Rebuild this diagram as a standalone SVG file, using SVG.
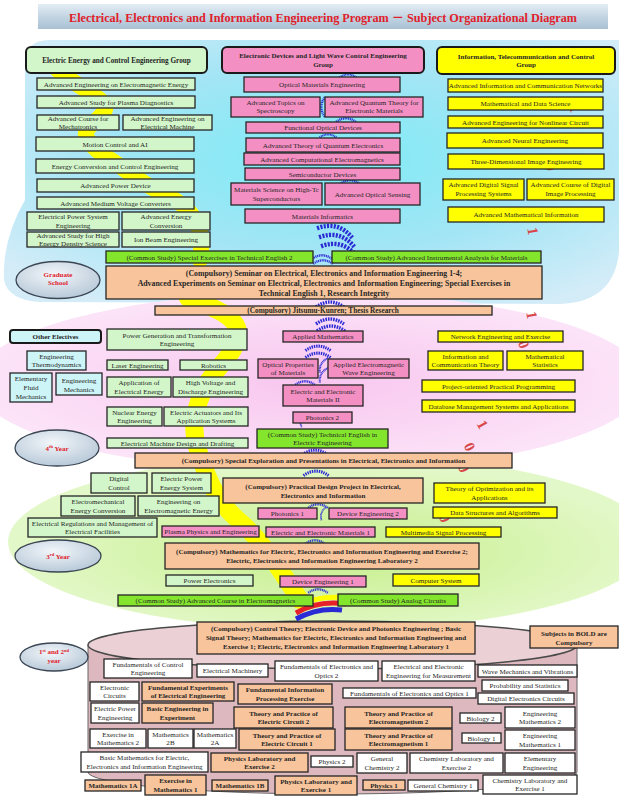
<svg xmlns="http://www.w3.org/2000/svg" width="619" height="801" viewBox="0 0 619 801">
<defs>
<linearGradient id="gTitle" x1="0" y1="0" x2="0" y2="1"><stop offset="0" stop-color="#e4edf4"/><stop offset="0.5" stop-color="#c3d5e3"/><stop offset="1" stop-color="#a9c1d4"/></linearGradient>
<radialGradient id="gBlue" cx="0.52" cy="0.45" r="0.65"><stop offset="0" stop-color="#7cecf6"/><stop offset="0.55" stop-color="#a3e5f5"/><stop offset="1" stop-color="#d3ecf8"/></radialGradient>
<radialGradient id="gPink" cx="0.5" cy="0.5" r="0.5"><stop offset="0" stop-color="#f8c6ef"/><stop offset="1" stop-color="#fce4f8"/></radialGradient>
<radialGradient id="gGreen" cx="0.5" cy="0.55" r="0.5"><stop offset="0" stop-color="#c6ef8a"/><stop offset="1" stop-color="#e3f8c9"/></radialGradient>
<radialGradient id="gEll" cx="0.45" cy="0.35" r="0.7"><stop offset="0" stop-color="#f2f6fa"/><stop offset="1" stop-color="#b4c6d6"/></radialGradient>
<path id="arc" d="M-14,4 Q0,-6 14,4"/>
</defs>
<style>
.bx{stroke:#262626;stroke-width:1.3}
.hd{stroke:#1a1a1a;stroke-width:2}
.lg{fill:#d2f6ca}
.pk{fill:#f48fc3}
.yl{fill:#ffff00}
.cs{fill:#84e62c}
.pe{fill:#f8c49b}
.wh{fill:#ffffff}
.lc{fill:#cdf4f7}
.el{fill:url(#gEll);stroke:#3c4654;stroke-width:1.3}
text{font-family:"Liberation Serif","Times New Roman","Noto Sans CJK JP",serif;font-size:7.1px;fill:#262626;text-anchor:middle}
.b{font-weight:bold;font-size:7px}
.r{font-weight:bold;fill:#e0202a;font-size:7px}
.arcs use{fill:none;stroke:#2b2bd6;stroke-width:3.4;stroke-dasharray:1.6 1}
.dg{fill:#d94848;font-size:15px;font-weight:bold}
</style>

<!-- backgrounds -->
<rect width="619" height="801" fill="#ffffff"/>
<path d="M25,64 Q25,40 49,40 L619,40 L619,252 Q614,302 560,304 L40,302 Q8,300 4,280 Q2,240 25,200 Z" fill="url(#gBlue)"/>
<ellipse cx="310" cy="382" rx="335" ry="90" fill="url(#gPink)"/>
<ellipse cx="330" cy="542" rx="322" ry="88" fill="url(#gGreen)"/>
<path d="M88,645 L88,772 A244.5,22 0 0 0 577,772 L577,645 Z" fill="#ddb8bf" stroke="#666" stroke-width="1"/>
<ellipse cx="332.5" cy="645" rx="244.5" ry="24" fill="#ebd1d5" stroke="#4a4a4a" stroke-width="1.5"/>

<!-- decorative helix -->
<g id="helix" fill="none">
<path d="M58,70 C80,90 112,100 104,112 C96,124 80,128 88,140 C96,152 104,155 120,166 C136,178 150,188 175,200 C195,212 205,230 200,260" stroke="#ffff00" stroke-width="16" stroke-linecap="round"/>
<path d="M188,298 C210,306 238,316 238,333 C238,352 218,365 206,385 C196,405 190,425 198,450 C206,475 215,500 238,520 C262,540 280,570 300,600" stroke="#ffff00" stroke-width="18" stroke-linecap="round"/>
<path d="M300,606 Q318,595 346,598" stroke="#ffff00" stroke-width="5"/>
<path d="M296,613 Q318,600 346,604" stroke="#e8202a" stroke-width="5"/>
<path d="M296,619 Q318,607 342,610" stroke="#2b2bd6" stroke-width="5"/>
<g class="arcs">
<use href="#arc" transform="translate(348,75) scale(0.6)"/>
<use href="#arc" transform="translate(322,107) rotate(-90) scale(0.7)"/>
<use href="#arc" transform="translate(346,119) scale(0.7)"/>
<use href="#arc" transform="translate(328,135) scale(0.6)"/>
<use href="#arc" transform="translate(322,152) scale(0.5)"/>
<use href="#arc" transform="translate(350,181) scale(0.7)"/>
<use href="#arc" transform="translate(336,228) rotate(15) scale(1.3)"/>
<use href="#arc" transform="translate(338,237) rotate(15) scale(1.3)"/>
<use href="#arc" transform="translate(340,246) rotate(15) scale(1.3)"/>
<use href="#arc" transform="translate(322,256) scale(0.7)"/>
<use href="#arc" transform="translate(323,261) scale(0.7)"/>
<use href="#arc" transform="translate(330,303) scale(1)"/>
<use href="#arc" transform="translate(330,320) scale(1)"/>
<use href="#arc" transform="translate(331,327) scale(1)"/>
<use href="#arc" transform="translate(318,347) scale(0.9)"/>
<use href="#arc" transform="translate(318,354) scale(0.9)"/>
<use href="#arc" transform="translate(322,364) rotate(-60) scale(0.6)"/>
<use href="#arc" transform="translate(322,374) rotate(-60) scale(0.6)"/>
<use href="#arc" transform="translate(305,382) scale(0.7)"/>
<use href="#arc" transform="translate(301,420) rotate(-80) scale(0.5)"/>
<use href="#arc" transform="translate(315,451) scale(0.9)"/>
<use href="#arc" transform="translate(316,472) scale(0.9)"/>
<use href="#arc" transform="translate(318,505) scale(0.7)"/>
<use href="#arc" transform="translate(322,513) rotate(-70) scale(0.5)"/>
<use href="#arc" transform="translate(315,541) scale(0.7)"/>
<use href="#arc" transform="translate(318,590) scale(0.7)"/>
</g>
</g>

<!-- binary digits -->
<g id="digits">
<text class="dg" transform="translate(570,110) rotate(70)">1</text>
<text class="dg" transform="translate(546,168) rotate(75)">0</text>
<text class="dg" transform="translate(533,217) rotate(75)">0</text>
<text class="dg" transform="translate(528,232) rotate(80)">1</text>
<text class="dg" transform="translate(527,316) rotate(80)">1</text>
<text class="dg" transform="translate(519,346) rotate(70)">0</text>
<text class="dg" transform="translate(478,427) rotate(60)">1</text>
<text class="dg" transform="translate(465,449) rotate(65)">0</text>
<text class="dg" transform="translate(459,470) rotate(70)">0</text>
<text class="dg" transform="translate(440,520) rotate(70)">0</text>
</g>

<!-- title -->
<g id="title">
<rect x="38" y="4" width="570" height="25" fill="url(#gTitle)"/>
<text x="323" y="22" textLength="508" lengthAdjust="spacingAndGlyphs" style="font-size:12px;font-weight:bold;fill:#e0202a">Electrical, Electronics and Information Engineering Program － Subject Organizational Diagram</text>
</g>

<!-- group headers -->
<g id="hdr-energy"><rect class="hd lg" x="26" y="47" width="181" height="26" rx="5"/><text class="b" x="116.5" y="62.5" style="font-size:7.2px">Electric Energy and Control Engineering Group</text></g>
<g id="hdr-devices"><rect class="hd pk" x="222" y="47" width="202" height="26" rx="5"/><text class="b" x="323" y="58">Electronic Devices and Light Wave Control Engineering<tspan x="323" dy="8.8">Group</tspan></text></g>
<g id="hdr-info"><rect class="hd yl" x="437" y="47" width="178" height="27" rx="5"/><text class="b" x="526" y="58.5">Information, Telecommunication and Control<tspan x="526" dy="8.8">Group</tspan></text></g>

<!-- energy group -->
<g id="n-e1"><rect class="bx lg" x="37" y="78" width="158" height="12"/><text x="116" y="86.5">Advanced Engineering on Electromagnetic Energy</text></g>
<g id="n-e2"><rect class="bx lg" x="37" y="96" width="158" height="12"/><text x="116" y="104.5">Advanced Study for Plasma Diagnostics</text></g>
<g id="n-e3"><rect class="bx lg" x="37" y="115" width="82" height="15"/><text x="78" y="120.5">Advanced Course for<tspan x="78" dy="8.5">Mechatronics</tspan></text></g>
<g id="n-e4"><rect class="bx lg" x="123" y="115" width="89" height="15"/><text x="167.5" y="120.5">Advanced Engineering on<tspan x="167.5" dy="8.5">Electrical Machine</tspan></text></g>
<g id="n-e5"><rect class="bx lg" x="36" y="137" width="158" height="14"/><text x="115" y="146.5">Motion Control and AI</text></g>
<g id="n-e6"><rect class="bx lg" x="36" y="159" width="158" height="14"/><text x="115" y="168.5">Energy Conversion and Control Engineering</text></g>
<g id="n-e7"><rect class="bx lg" x="37" y="179" width="157" height="13"/><text x="115.5" y="188">Advanced Power Device</text></g>
<g id="n-e8"><rect class="bx lg" x="37" y="197" width="157" height="12"/><text x="115.5" y="205.5">Advanced Medium Voltage Converters</text></g>
<g id="n-e9"><rect class="bx lg" x="27" y="212" width="92" height="18"/><text x="73" y="219">Electrical Power System<tspan x="73" dy="8.8">Engineering</tspan></text></g>
<g id="n-e10"><rect class="bx lg" x="122" y="212" width="88" height="18"/><text x="166" y="219">Advanced Energy<tspan x="166" dy="8.8">Conversion</tspan></text></g>
<g id="n-e11"><rect class="bx lg" x="27" y="232" width="92" height="15"/><text x="73" y="237.8">Advanced Study for High<tspan x="73" dy="8.3">Energy Density Science</tspan></text></g>
<g id="n-e12"><rect class="bx lg" x="122" y="232" width="88" height="15"/><text x="166" y="242">Ion Beam Engineering</text></g>

<!-- devices group -->
<g id="n-d1"><rect class="bx pk" x="244" y="77" width="156" height="15"/><text x="322" y="87">Optical Materials Engineering</text></g>
<g id="n-d2"><rect class="bx pk" x="231" y="97" width="89" height="20"/><text x="275.5" y="104.5">Advanced Topics on<tspan x="275.5" dy="8.8">Spectroscopy</tspan></text></g>
<g id="n-d3"><rect class="bx pk" x="325" y="97" width="98" height="20"/><text x="374" y="104.5">Advanced Quantum Theory for<tspan x="374" dy="8.8">Electronic Materials</tspan></text></g>
<g id="n-d4"><rect class="bx pk" x="246" y="122" width="154" height="11"/><text x="323" y="130">Functional Optical Devices</text></g>
<g id="n-d5"><rect class="bx pk" x="246" y="138" width="154" height="14"/><text x="323" y="147.5">Advanced Theory of Quantum Electronics</text></g>
<g id="n-d6"><rect class="bx pk" x="244" y="153" width="156" height="12"/><text x="322" y="161.5">Advanced Computational Electromagnetics</text></g>
<g id="n-d7"><rect class="bx pk" x="245" y="168" width="155" height="12"/><text x="322.5" y="176.5">Semiconductor Devices</text></g>
<g id="n-d8"><rect class="bx pk" x="231" y="183" width="91" height="22"/><text x="276.5" y="192">Materials Science on High-Tc<tspan x="276.5" dy="8.8">Superconductors</tspan></text></g>
<g id="n-d9"><rect class="bx pk" x="325" y="183" width="95" height="22"/><text x="372.5" y="196.5">Advanced Optical Sensing</text></g>
<g id="n-d10"><rect class="bx pk" x="245" y="209" width="155" height="14"/><text x="322.5" y="218.5">Materials Informatics</text></g>

<!-- information group -->
<g id="n-i1"><rect class="bx yl" x="448" y="79" width="155" height="13"/><text x="525.5" y="88">Advanced Information and Communication Networks</text></g>
<g id="n-i2"><rect class="bx yl" x="448" y="97" width="155" height="13"/><text x="525.5" y="106">Mathematical and Data Science</text></g>
<g id="n-i3"><rect class="bx yl" x="448" y="116" width="155" height="12"/><text x="525.5" y="124.5">Advanced Engineering for Nonlinear Circuit</text></g>
<g id="n-i4"><rect class="bx yl" x="447" y="133" width="156" height="15"/><text x="525" y="143">Advanced Neural Engineering</text></g>
<g id="n-i5"><rect class="bx yl" x="448" y="154" width="156" height="15"/><text x="526" y="164">Three-Dimensional Image Engineering</text></g>
<g id="n-i6"><rect class="bx yl" x="443" y="179" width="81" height="21"/><text x="483.5" y="187">Advanced Digital Signal<tspan x="483.5" dy="8.8">Processing Systems</tspan></text></g>
<g id="n-i7"><rect class="bx yl" x="527" y="179" width="87" height="21"/><text x="570.5" y="187">Advanced Course of Digital<tspan x="570.5" dy="8.8">Image Processing</tspan></text></g>
<g id="n-i8"><rect class="bx yl" x="448" y="207" width="156" height="15"/><text x="526" y="217">Advanced Mathematical Information</text></g>

<!-- graduate school -->
<g id="n-g1"><rect class="bx cs" x="106" y="251" width="207" height="12"/><text x="209.5" y="259.5">(Common Study) Special Exercises in Technical English 2</text></g>
<g id="n-g2"><rect class="bx cs" x="332" y="251" width="209" height="12"/><text x="436.5" y="259.5">(Common Study) Advanced Instrumental Analysis for Materials</text></g>
<g id="lbl-grad"><ellipse class="el" cx="58" cy="280" rx="42" ry="18.5"/><text class="r" x="58" y="276.5">Graduate<tspan x="58" dy="8">School</tspan></text></g>
<g id="n-g3"><rect class="bx pe" x="106" y="266" width="436" height="33"/><text class="b" x="324" y="276" style="font-size:7.8px">(Compulsory)  Seminar on Electrical, Electronics and Information Engineering 1-4;<tspan x="324" dy="9.8">Advanced Experiments on Seminar on Electrical, Electronics and Information Engineering; Special Exercises in</tspan><tspan x="324" dy="9.8">Technical English 1, Research Integrity</tspan></text></g>
<g id="n-g4"><rect class="bx pe" x="155" y="306" width="337" height="9"/><text class="b" x="323" y="313.2" style="font-size:7.3px">(Compulsory) Jitsumu-Kunren; Thesis Research</text></g>

<!-- other electives -->
<g id="hdr-other"><rect class="hd lc" x="10" y="330" width="91" height="13" rx="3"/><text class="b" x="55.5" y="339">Other Electives</text></g>
<g id="n-o1"><rect class="bx lc" x="27" y="351" width="59" height="19"/><text x="56.5" y="358.5">Engineering<tspan x="56.5" dy="8.8">Thermodynamics</tspan></text></g>
<g id="n-o2"><rect class="bx lc" x="10" y="373" width="42" height="29"/><text x="31" y="380.5">Elementary<tspan x="31" dy="9.3">Fluid</tspan><tspan x="31" dy="9.3">Mechanics</tspan></text></g>
<g id="n-o3"><rect class="bx lc" x="56" y="373" width="46" height="22"/><text x="79" y="383">Engineering<tspan x="79" dy="8.8">Mechanics</tspan></text></g>

<!-- 4th year -->
<g id="n-f1"><rect class="bx lg" x="107" y="329" width="140" height="21"/><text x="177" y="337.5">Power Generation and Transformation<tspan x="177" dy="8.8">Engineering</tspan></text></g>
<g id="n-f2"><rect class="bx lg" x="107" y="360" width="61" height="10"/><text x="137.5" y="367.5">Laser Engineering</text></g>
<g id="n-f3"><rect class="bx lg" x="180" y="360" width="67" height="10"/><text x="213.5" y="367.5">Robotics</text></g>
<g id="n-f4"><rect class="bx lg" x="107" y="377" width="64" height="20"/><text x="139" y="385">Application of<tspan x="139" dy="8.8">Electrical Energy</tspan></text></g>
<g id="n-f5"><rect class="bx lg" x="173" y="377" width="75" height="20"/><text x="210.5" y="385">High Voltage and<tspan x="210.5" dy="8.8">Discharge Engineering</tspan></text></g>
<g id="n-f6"><rect class="bx pk" x="283" y="331" width="80" height="11"/><text x="323" y="339">Applied Mathematics</text></g>
<g id="n-f7"><rect class="bx pk" x="258" y="359" width="60" height="19"/><text x="288" y="366.5">Optical Properties<tspan x="288" dy="8.8">of Materials</tspan></text></g>
<g id="n-f8"><rect class="bx pk" x="328" y="359" width="81" height="19"/><text x="368.5" y="366.5">Applied Electromagnetic<tspan x="368.5" dy="8.8">Wave Engineering</tspan></text></g>
<g id="n-f9"><rect class="bx pk" x="283" y="385" width="80" height="21"/><text x="323" y="393.5">Electric and Electronic<tspan x="323" dy="8.8">Materials II</tspan></text></g>
<g id="n-f10"><rect class="bx yl" x="438" y="331" width="125" height="11"/><text x="500.5" y="339">Network Engineering and Exercise</text></g>
<g id="n-f11"><rect class="bx yl" x="428" y="351" width="75" height="19"/><text x="465.5" y="358.5">Information and<tspan x="465.5" dy="8.8">Communication Theory</tspan></text></g>
<g id="n-f12"><rect class="bx yl" x="507" y="351" width="76" height="19"/><text x="545" y="358.5">Mathematical<tspan x="545" dy="8.8">Statistics</tspan></text></g>
<g id="n-f13"><rect class="bx yl" x="422" y="380" width="153" height="12"/><text x="498.5" y="388.5">Project-oriented Practical Programming</text></g>
<g id="n-f14"><rect class="bx yl" x="422" y="400" width="153" height="12"/><text x="498.5" y="408.5">Database Management Systems and Applications</text></g>
<g id="n-f15"><rect class="bx lg" x="107" y="407" width="55" height="19"/><text x="134.5" y="414.5">Nuclear Energy<tspan x="134.5" dy="8.8">Engineering</tspan></text></g>
<g id="n-f16"><rect class="bx lg" x="164" y="407" width="84" height="19"/><text x="206" y="414.5">Electric Actuators and Its<tspan x="206" dy="8.8">Application Systems</tspan></text></g>
<g id="n-f17"><rect class="bx pk" x="293" y="412" width="59" height="11"/><text x="322.5" y="420">Photonics 2</text></g>
<g id="lbl-4th"><ellipse class="el" cx="57" cy="448" rx="42" ry="18"/><text class="r" x="57" y="450.5">4<tspan dy="-2.5" style="font-size:4.5px">th</tspan><tspan dy="2.5"> Year</tspan></text></g>
<g id="n-f18"><rect class="bx lg" x="107" y="438" width="141" height="10"/><text x="177.5" y="445.5">Electrical Machine Design and Drafting</text></g>
<g id="n-f19"><rect class="bx cs" x="257" y="429" width="131" height="19"/><text x="322.5" y="436.5">(Common Study) Technical English in<tspan x="322.5" dy="8.8">Electric Engineering</tspan></text></g>
<g id="n-f20"><rect class="bx pe" x="135" y="453" width="377" height="15"/><text class="b" x="323.5" y="463">(Compulsory) Special Exploration and Presentations in Electrical, Electronics and Information</text></g>

<!-- 3rd year -->
<g id="n-t1"><rect class="bx lg" x="91" y="473" width="56" height="20"/><text x="119" y="481">Digital<tspan x="119" dy="8.8">Control</tspan></text></g>
<g id="n-t2"><rect class="bx lg" x="152" y="473" width="59" height="20"/><text x="181.5" y="481">Electric Power<tspan x="181.5" dy="8.8">Energy System</tspan></text></g>
<g id="n-t3"><rect class="bx pe" x="223" y="478" width="200" height="25"/><text class="b" x="323" y="488.5">(Compulsory) Practical Design Project in Electrical,<tspan x="323" dy="9">Electronics and Information</tspan></text></g>
<g id="n-t4"><rect class="bx yl" x="434" y="483" width="111" height="20"/><text x="489.5" y="491">Theory of Optimization and its<tspan x="489.5" dy="8.8">Applications</tspan></text></g>
<g id="n-t5"><rect class="bx lg" x="61" y="496" width="74" height="20"/><text x="98" y="504">Electromechanical<tspan x="98" dy="8.8">Energy Conversion</tspan></text></g>
<g id="n-t6"><rect class="bx lg" x="138" y="496" width="81" height="20"/><text x="178.5" y="504">Engineering on<tspan x="178.5" dy="8.8">Electromagnetic Energy</tspan></text></g>
<g id="n-t7"><rect class="bx pk" x="258" y="508" width="59" height="11"/><text x="287.5" y="516">Photonics 1</text></g>
<g id="n-t8"><rect class="bx pk" x="329" y="508" width="78" height="11"/><text x="368" y="516">Device Engineering 2</text></g>
<g id="n-t9"><rect class="bx yl" x="433" y="507" width="124" height="11"/><text x="495" y="515">Data Structures and Algorithms</text></g>
<g id="n-t10"><rect class="bx lg" x="28" y="518" width="129" height="19"/><text x="92.5" y="525.5">Electrical Regulations and Management of<tspan x="92.5" dy="8.8">Electrical Facilities</tspan></text></g>
<g id="n-t11"><rect class="bx pk" x="162" y="526" width="97" height="11"/><text x="210.5" y="534">Plasma Physics and Engineering</text></g>
<g id="n-t12"><rect class="bx pk" x="266" y="527" width="109" height="10"/><text x="320.5" y="534.5">Electric and Electronic Materials 1</text></g>
<g id="n-t13"><rect class="bx yl" x="386" y="527" width="115" height="10"/><text x="443.5" y="534.5">Multimedia Signal Processing</text></g>
<g id="lbl-3rd"><ellipse class="el" cx="58" cy="556" rx="43" ry="16"/><text class="r" x="58" y="558.5">3<tspan dy="-2.5" style="font-size:4.5px">rd</tspan><tspan dy="2.5"> Year</tspan></text></g>
<g id="n-t14"><rect class="bx pe" x="165" y="543" width="314" height="26"/><text class="b" x="322" y="553.5">(Compulsory) Mathematics for Electric, Electronics and Information Engineering and Exercise 2;<tspan x="322" dy="9.3">Electric, Electronics and Information Engineering Laboratory 2</tspan></text></g>
<g id="n-t15"><rect class="bx lg" x="166" y="575" width="87" height="11"/><text x="209.5" y="583">Power Electronics</text></g>
<g id="n-t16"><rect class="bx pk" x="280" y="576" width="86" height="11"/><text x="323" y="584">Device Engineering 1</text></g>
<g id="n-t17"><rect class="bx yl" x="393" y="574" width="86" height="12"/><text x="436" y="582.5">Computer System</text></g>
<g id="n-t18"><rect class="bx cs" x="118" y="595" width="195" height="11"/><text x="215.5" y="603">(Common Study) Advanced Course in Electromagnetics</text></g>
<g id="n-t19"><rect class="bx cs" x="338" y="594" width="120" height="12"/><text x="398" y="602.5">(Common Study) Analog Circuits</text></g>

<!-- 1st and 2nd year -->
<g id="n-s0"><rect class="bx pe" x="197" y="622" width="278" height="32"/><text class="b" x="336" y="631">(Compulsory) Control Theory; Electronic Device and Photonics Engineering ; Basic<tspan x="336" dy="9">Signal Theory; Mathematics for Electric, Electronics and Information Engineering and</tspan><tspan x="336" dy="9">Exercise 1; Electric, Electronics and Information Engineering Laboratory 1</tspan></text></g>
<g id="n-bold"><rect class="bx pe" x="530" y="626" width="88" height="22"/><text class="b" x="574" y="635.5">Subjects in BOLD are<tspan x="574" dy="9">Compulsory</tspan></text></g>
<g id="lbl-12"><ellipse class="el" cx="54" cy="657" rx="34" ry="14"/><text class="r" x="54" y="654">1<tspan dy="-2.5" style="font-size:4.5px">st</tspan><tspan dy="2.5"> and 2</tspan><tspan dy="-2.5" style="font-size:4.5px">nd</tspan><tspan x="54" dy="11">year</tspan></text></g>
<g id="n-s1"><rect class="bx wh" x="104" y="659" width="88" height="19"/><text x="148" y="666.5">Fundamentals of Control<tspan x="148" dy="8.8">Engineering</tspan></text></g>
<g id="n-s2"><rect class="bx wh" x="197" y="664" width="71" height="13"/><text x="232.5" y="673">Electrical Machinery</text></g>
<g id="n-s3"><rect class="bx wh" x="275" y="661" width="103" height="20"/><text x="326.5" y="669">Fundamentals of Electronics and<tspan x="326.5" dy="8.8">Optics 2</tspan></text></g>
<g id="n-s4"><rect class="bx wh" x="382" y="661" width="93" height="20"/><text x="428.5" y="669">Electrical and Electronic<tspan x="428.5" dy="8.8">Engineering for Measurement</tspan></text></g>
<g id="n-s5"><rect class="bx wh" x="478" y="665" width="99" height="12"/><text x="527.5" y="673.5">Wave Mechanics and Vibrations</text></g>
<g id="n-s6"><rect class="bx wh" x="482" y="680" width="86" height="11"/><text x="525" y="688">Probability and Statistics</text></g>
<g id="n-s7"><rect class="bx wh" x="90" y="682" width="49" height="19"/><text x="114.5" y="689.5">Electronic<tspan x="114.5" dy="8.8">Circuits</tspan></text></g>
<g id="n-s8"><rect class="bx pe" x="142" y="682" width="92" height="19"/><text class="b" x="188" y="689.5">Fundamental Experiments<tspan x="188" dy="8.8">of Electrical Engineering</tspan></text></g>
<g id="n-s9"><rect class="bx pe" x="238" y="684" width="94" height="20"/><text class="b" x="285" y="692">Fundamental Information<tspan x="285" dy="8.8">Processing Exercise</tspan></text></g>
<g id="n-s10"><rect class="bx wh" x="343" y="688" width="133" height="10"/><text x="409.5" y="695.5">Fundamentals of Electronics and Optics 1</text></g>
<g id="n-s11"><rect class="bx wh" x="478" y="693" width="96" height="11"/><text x="526" y="701">Digital Electronics Circuits</text></g>
<g id="n-s12"><rect class="bx wh" x="91" y="703" width="48" height="20"/><text x="115" y="711">Electric Power<tspan x="115" dy="8.8">Engineering</tspan></text></g>
<g id="n-s13"><rect class="bx pe" x="142" y="703" width="71" height="20"/><text class="b" x="177.5" y="711">Basic Engineering in<tspan x="177.5" dy="8.8">Experiment</tspan></text></g>
<g id="n-s14"><rect class="bx pe" x="234" y="707" width="99" height="21"/><text class="b" x="283.5" y="715.5">Theory and Practice of<tspan x="283.5" dy="8.8">Electric Circuit 2</tspan></text></g>
<g id="n-s15"><rect class="bx pe" x="345" y="707" width="107" height="21"/><text class="b" x="398.5" y="715.5">Theory and Practice of<tspan x="398.5" dy="8.8">Electromagnetism 2</tspan></text></g>
<g id="n-s16"><rect class="bx wh" x="460" y="713" width="41" height="10"/><text x="480.5" y="720.5">Biology 2</text></g>
<g id="n-s17"><rect class="bx wh" x="505" y="707" width="70" height="21"/><text x="540" y="715.5">Engineering<tspan x="540" dy="8.8">Mathematics 2</tspan></text></g>
<g id="n-s18"><rect class="bx wh" x="90" y="729" width="56" height="19"/><text x="118" y="736.5">Exercise in<tspan x="118" dy="8.8">Mathematics 2</tspan></text></g>
<g id="n-s19"><rect class="bx wh" x="148" y="729" width="45" height="19"/><text x="170.5" y="736.5">Mathematics<tspan x="170.5" dy="8.8">2B</tspan></text></g>
<g id="n-s20"><rect class="bx wh" x="194" y="729" width="42" height="19"/><text x="215" y="736.5">Mathematics<tspan x="215" dy="8.8">2A</tspan></text></g>
<g id="n-s21"><rect class="bx pe" x="239" y="729" width="96" height="21"/><text class="b" x="287" y="737.5">Theory and Practice of<tspan x="287" dy="8.8">Electric Circuit 1</tspan></text></g>
<g id="n-s22"><rect class="bx pe" x="345" y="729" width="107" height="21"/><text class="b" x="398.5" y="737.5">Theory and Practice of<tspan x="398.5" dy="8.8">Electromagnetism 1</tspan></text></g>
<g id="n-s23"><rect class="bx wh" x="462" y="733" width="39" height="10"/><text x="481.5" y="740.5">Biology 1</text></g>
<g id="n-s24"><rect class="bx wh" x="505" y="730" width="70" height="20"/><text x="540" y="738">Engineering<tspan x="540" dy="8.8">Mathematics 1</tspan></text></g>
<g id="n-s25"><rect class="bx wh" x="81" y="752" width="127" height="20"/><text x="144.5" y="760">Basic Mathematics for Electric,<tspan x="144.5" dy="8.8">Electronics and Information Engineering</tspan></text></g>
<g id="n-s26"><rect class="bx pe" x="211" y="753" width="97" height="19"/><text class="b" x="259.5" y="760.5">Physics Laboratory and<tspan x="259.5" dy="8.8">Exercise 2</tspan></text></g>
<g id="n-s27"><rect class="bx wh" x="311" y="756" width="42" height="11"/><text x="332" y="764">Physics 2</text></g>
<g id="n-s28"><rect class="bx wh" x="357" y="753" width="50" height="20"/><text x="382" y="761">General<tspan x="382" dy="8.8">Chemistry 2</tspan></text></g>
<g id="n-s29"><rect class="bx wh" x="410" y="753" width="93" height="20"/><text x="456.5" y="761">Chemistry Laboratory and<tspan x="456.5" dy="8.8">Exercise 2</tspan></text></g>
<g id="n-s30"><rect class="bx wh" x="505" y="753" width="70" height="20"/><text x="540" y="761">Elementary<tspan x="540" dy="8.8">Engineering</tspan></text></g>
<g id="n-s31"><rect class="bx pe" x="85" y="780" width="56" height="11"/><text class="b" x="113" y="788">Mathematics 1A</text></g>
<g id="n-s32"><rect class="bx pe" x="145" y="775" width="61" height="20"/><text class="b" x="175.5" y="783">Exercise in<tspan x="175.5" dy="8.8">Mathematics 1</tspan></text></g>
<g id="n-s33"><rect class="bx pe" x="212" y="780" width="56" height="11"/><text class="b" x="240" y="788">Mathematics 1B</text></g>
<g id="n-s34"><rect class="bx pe" x="275" y="776" width="82" height="19"/><text class="b" x="316" y="783.5">Physics Laboratory and<tspan x="316" dy="8.8">Exercise 1</tspan></text></g>
<g id="n-s35"><rect class="bx pe" x="363" y="780" width="42" height="10"/><text class="b" x="384" y="787.5">Physics 1</text></g>
<g id="n-s36"><rect class="bx wh" x="408" y="780" width="70" height="11"/><text x="443" y="788">General Chemistry 1</text></g>
<g id="n-s37"><rect class="bx wh" x="483" y="775" width="94" height="19"/><text x="530" y="782.5">Chemistry Laboratory and<tspan x="530" dy="8.8">Exercise 1</tspan></text></g>
</svg>
